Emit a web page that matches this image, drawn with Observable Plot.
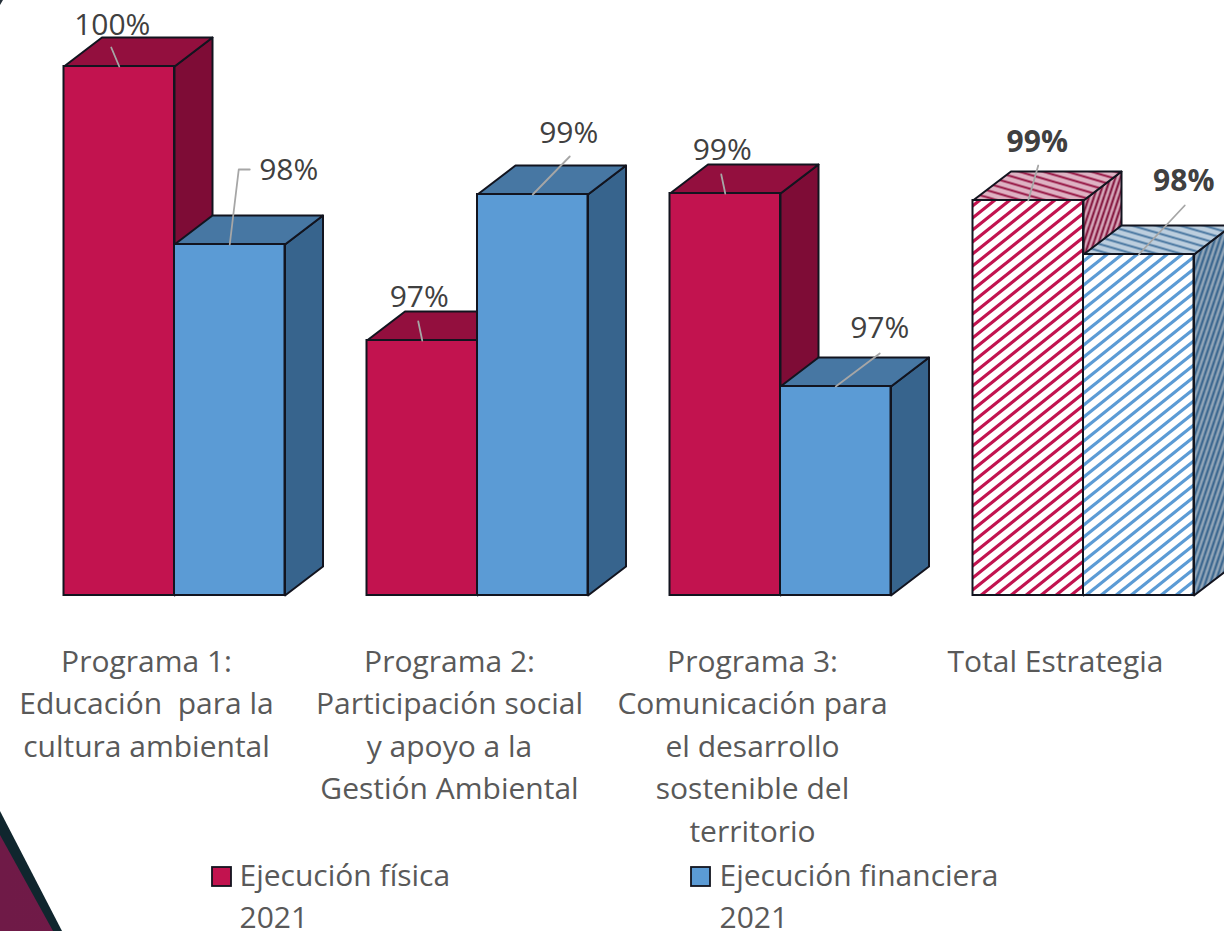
<!DOCTYPE html>
<html lang="es">
<head>
<meta charset="utf-8">
<script src="https://cdn.jsdelivr.net/npm/d3@7"></script>
<script src="https://cdn.jsdelivr.net/npm/@observablehq/plot@0.6"></script>
<style>
  html, body { margin: 0; padding: 0; background: #fff; overflow: hidden; }
  #chart { position: relative; width: 1224px; height: 931px; }
  #chart > svg { display: block; background: transparent !important; position: relative; }
  .corner { position: absolute; left: 0; top: 0; width: 1224px; height: 931px; }
  .edge { background: #10262e; clip-path: polygon(0 811px, 62px 931px, 0 931px); }
  .wedge { background: linear-gradient(90deg, #6f1a47, #7c1b4b); clip-path: polygon(0 835px, 53px 931px, 0 931px); }
  .nick { background: #26303a; clip-path: polygon(0 0, 3px 0, 0 5px); }
</style>
</head>
<body>
<svg width="0" height="0" style="position:absolute">
  <defs>
    <pattern id="hatchRedFront" width="15" height="12" patternUnits="userSpaceOnUse">
      <rect width="15" height="12" fill="#fff"/>
      <path d="M-5,4 L5,-4 M0,12 L15,0 M10,16 L20,8" stroke="#c2134f" stroke-width="3.2"/>
    </pattern>
    <pattern id="hatchBlueFront" width="15" height="12" patternUnits="userSpaceOnUse">
      <rect width="15" height="12" fill="#fff"/>
      <path d="M-5,4 L5,-4 M0,12 L15,0 M10,16 L20,8" stroke="#5b9bd5" stroke-width="3.2"/>
    </pattern>
    <pattern id="hatchRedTop" width="24" height="7" patternUnits="userSpaceOnUse">
      <rect width="24" height="7" fill="#deb2c3"/>
      <path d="M-24,-7 L48,14 M-24,0 L24,14 M0,-7 L48,7" stroke="#93103f" stroke-width="2"/>
    </pattern>
    <pattern id="hatchBlueTop" width="24" height="7" patternUnits="userSpaceOnUse">
      <rect width="24" height="7" fill="#bccede"/>
      <path d="M-24,-7 L48,14 M-24,0 L24,14 M0,-7 L48,7" stroke="#47759f" stroke-width="2"/>
    </pattern>
    <pattern id="hatchRedSide" width="5" height="15" patternUnits="userSpaceOnUse">
      <rect width="5" height="15" fill="#d6a7b9"/>
      <path d="M-1,15 L4,0 M4,15 L9,0 M-6,15 L-1,0" stroke="#7e0c36" stroke-width="2"/>
    </pattern>
    <pattern id="hatchBlueSide" width="5" height="15" patternUnits="userSpaceOnUse">
      <rect width="5" height="15" fill="#94a7b9"/>
      <path d="M-1,15 L4,0 M4,15 L9,0 M-6,15 L-1,0" stroke="#37648d" stroke-width="2.2"/>
    </pattern>
  </defs>
</svg>
<div id="chart">
  <div class="corner edge"></div>
  <div class="corner wedge"></div>
  <div class="corner nick"></div>
</div>
<script>
// ---- Data ----
const categories = [
  "Programa 1:\nEducación  para la\ncultura ambiental",
  "Programa 2:\nParticipación social\ny apoyo a la\nGestión Ambiental",
  "Programa 3:\nComunicación para\nel desarrollo\nsostenible del\nterritorio",
  "Total Estrategia"
];
const seriesNames = ["Ejecución física\n2021", "Ejecución financiera\n2021"];
const ejecucionFisica = [100, 97.26, 98.73, 98.66];
const ejecucionFinanciera = [98.22, 98.72, 96.8, 98.12];
const baseline = 94.71;

// ---- Layout (pixels) ----
const W = 1224, H = 931;
const groupLeft = 63.5, groupStep = 303;
const pxX = 1 / groupStep, pxY = 0.01;            // data units per pixel
const X = px => (px - groupLeft) * pxX;
const Y = px => 100 - (px - 66) * pxY;
const barW = 110.5 * pxX, depthX = 38 * pxX, depthY = 29 * pxY;
const fontSize = 30;
const lineHeight = 42.5 / fontSize;

const solid = [
  {front: "#c2134f", top: "#930f3e", side: "#7e0c36"},
  {front: "#5b9bd5", top: "#4777a3", side: "#37648d"}
];
const hatched = [
  {front: "url(#hatchRedFront)", top: "url(#hatchRedTop)", side: "url(#hatchRedSide)"},
  {front: "url(#hatchBlueFront)", top: "url(#hatchBlueTop)", side: "url(#hatchBlueSide)"}
];
const edge = "#12141f";

// offsets from each bar's front top-centre to its value label and leader elbow(s)
const labelOffsets = [
  [{lx: -7, ly: -41, leader: [[-8, -19]]}, {lx: 59, ly: -74, leader: [[9, -75], [20, -75]]}],
  [{lx: -3, ly: -43, leader: [[-4, -19]]}, {lx: 36, ly: -61, leader: [[37, -38]]}],
  [{lx: -3, ly: -43, leader: [[-4, -19]]}, {lx: 44, ly: -58, leader: [[44, -33]]}],
  [{lx: 9, ly: -58, leader: [[10, -35]]}, {lx: 45, ly: -73, leader: [[46, -49]]}]
];

const marks = [];
const series = [ejecucionFisica, ejecucionFinanciera];
const closed = {x: "x", y: "y", stroke: edge, strokeWidth: 2, strokeLinejoin: "round", curve: "linear-closed"};

categories.forEach((cat, g) => {
  series.forEach((vals, s) => {
    const v = vals[g];
    const x0 = g + s * barW, x1 = x0 + barW;
    const st = (g === 3 ? hatched : solid)[s];
    marks.push(Plot.line([
      {x: x1, y: v}, {x: x1 + depthX, y: v + depthY},
      {x: x1 + depthX, y: baseline + depthY}, {x: x1, y: baseline}
    ], {...closed, fill: st.side}));
    marks.push(Plot.line([
      {x: x0, y: v}, {x: x0 + depthX, y: v + depthY},
      {x: x1 + depthX, y: v + depthY}, {x: x1, y: v}
    ], {...closed, fill: st.top}));
    marks.push(Plot.rect([{x0, x1, v}], {
      x1: "x0", x2: "x1", y1: () => baseline, y2: "v",
      fill: st.front, stroke: edge, strokeWidth: 2
    }));
  });
});

// value labels and leaders
categories.forEach((cat, g) => {
  series.forEach((vals, s) => {
    const v = vals[g], off = labelOffsets[g][s];
    const cx = g + s * barW + barW / 2;
    const pts = [[0, 0], ...off.leader].map(([dx, dy]) => ({x: cx + dx * pxX, y: v - dy * pxY}));
    marks.push(Plot.line(pts, {x: "x", y: "y", stroke: "#a6a6a6", strokeWidth: 1.8}));
    marks.push(Plot.text([d3.format(".0f")(v) + "%"], {
      x: () => cx, y: () => v,
      text: d => d,
      dx: off.lx,
      dy: off.ly,
      fontFamily: "'Open Sans'",
      fontSize,
      fontWeight: g === 3 ? 700 : 400,
      fill: "#404040",
      textAnchor: "middle"
    }));
  });
});

// category labels
marks.push(Plot.text(categories, {
  x: (d, i) => i + X(146),
  y: () => Y(641),
  text: d => d,
  lineAnchor: "top",
  lineHeight,
  fontFamily: "'Open Sans'",
  fontSize,
  fill: "#595959",
  textAnchor: "middle"
}));

// legend
[[212, 239], [691, 719]].forEach(([sx, tx], s) => {
  marks.push(Plot.rect([0], {
    x1: () => X(sx), x2: () => X(sx + 19),
    y1: () => Y(867), y2: () => Y(886),
    fill: solid[s].front, stroke: edge, strokeWidth: 1.8
  }));
  marks.push(Plot.text([seriesNames[s]], {
    x: () => X(tx), y: () => Y(855),
    text: d => d,
    textAnchor: "start",
    lineAnchor: "top",
    lineHeight,
    fontFamily: "'Open Sans'",
    fontSize,
    fill: "#595959"
  }));
});

const plot = Plot.plot({
  width: W, height: H,
  marginTop: 0, marginRight: 0, marginBottom: 0, marginLeft: 0,
  x: {type: "linear", axis: null, domain: [X(0), X(W)], range: [0, W]},
  y: {type: "linear", axis: null, domain: [Y(H), Y(0)], range: [H, 0]},
  style: {background: "transparent", overflow: "hidden"},
  marks
});
document.getElementById("chart").appendChild(plot);
</script>
</body>
</html>
